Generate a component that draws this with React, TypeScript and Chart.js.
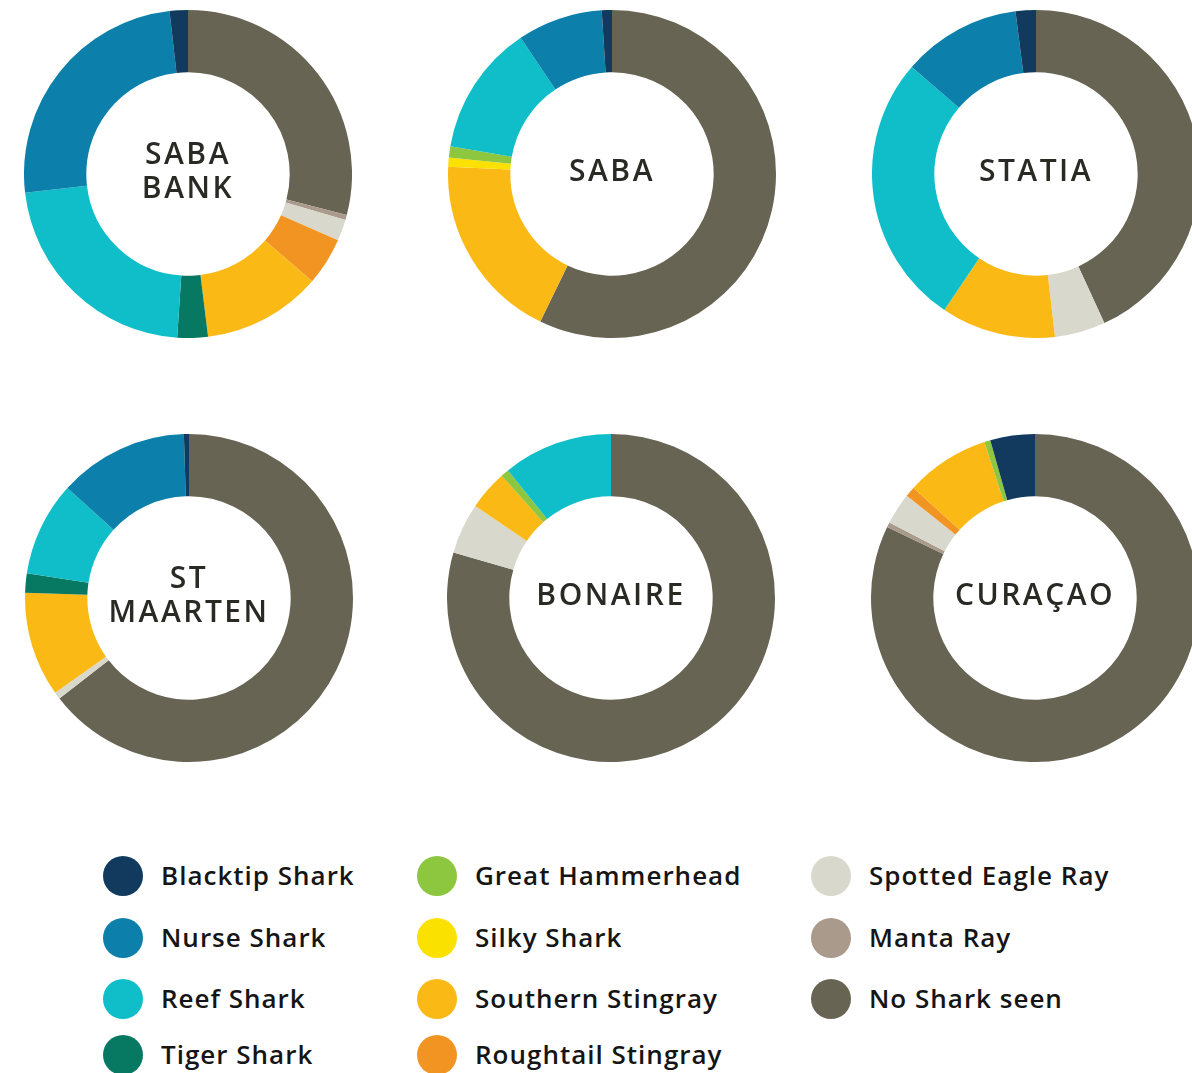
import React, { useEffect, useRef } from "react";
import { Chart, registerables } from "chart.js";

Chart.register(...registerables);

const species = [
  "Blacktip Shark",
  "Nurse Shark",
  "Reef Shark",
  "Tiger Shark",
  "Great Hammerhead",
  "Silky Shark",
  "Southern Stingray",
  "Roughtail Stingray",
  "Spotted Eagle Ray",
  "Manta Ray",
  "No Shark seen",
];

const speciesColors = [
  "#113a5e",
  "#0c80aa",
  "#0fbec9",
  "#077862",
  "#8dc63f",
  "#fae100",
  "#fbb916",
  "#f19422",
  "#d9d8cc",
  "#a99a8b",
  "#676453",
];

// percentages, in legend order
const sabaBank = [1.8, 25, 22.1, 3, 0, 0, 11.7, 4.7, 2.1, 0.5, 29.0];
const saba = [1, 8.4, 12.9, 0, 1.1, 0.9, 18.5, 0, 0, 0, 57.2];
const statia = [2, 11.7, 26.9, 0, 0, 0, 11.3, 0, 5, 0, 43.2];
const stMaarten = [0.5, 12.8, 9.3, 1.9, 0, 0, 10.3, 0, 0.7, 0, 64.5];
const bonaire = [0, 0, 10.8, 0, 0.8, 0, 3.9, 0, 5, 0, 79.4];
const curacao = [4.4, 0, 0, 0, 0.6, 0, 8.3, 1, 3.1, 0.5, 82.2];

const sites = [
  { title: ["SABA", "BANK"], values: sabaBank, cx: 188, cy: 174 },
  { title: ["SABA"], values: saba, cx: 612, cy: 174 },
  { title: ["STATIA"], values: statia, cx: 1036, cy: 174 },
  { title: ["ST", "MAARTEN"], values: stMaarten, cx: 189, cy: 598 },
  { title: ["BONAIRE"], values: bonaire, cx: 611, cy: 598 },
  { title: ["CURAÇAO"], values: curacao, cx: 1035, cy: 598 },
];

const SIZE = 328;

function Donut({ values, title, cx, cy }: { values: number[]; title: string[]; cx: number; cy: number }) {
  const ref = useRef<HTMLCanvasElement>(null);
  useEffect(() => {
    if (!ref.current) return;
    const chart = new Chart(ref.current, {
      type: "doughnut",
      data: {
        labels: [...species].reverse(),
        datasets: [
          {
            data: [...values].reverse(),
            backgroundColor: [...speciesColors].reverse(),
            borderWidth: 0,
          },
        ],
      },
      options: {
        responsive: false,
        animation: false,
        cutout: "62%",
        layout: { padding: 0 },
        plugins: { legend: { display: false }, tooltip: { enabled: false } },
      },
    });
    return () => chart.destroy();
  }, []);
  return (
    <div style={{ position: "absolute", left: cx - SIZE / 2, top: cy - SIZE / 2, width: SIZE, height: SIZE }}>
      <canvas ref={ref} width={SIZE} height={SIZE} style={{ width: SIZE, height: SIZE, display: "block" }} />
      <div
        style={{
          position: "absolute",
          left: 0,
          top: -4,
          width: SIZE,
          height: SIZE,
          display: "flex",
          flexDirection: "column",
          alignItems: "center",
          justifyContent: "center",
          fontFamily: "'Open Sans', sans-serif",
          fontWeight: 600,
          fontSize: 30,
          lineHeight: "34px",
          letterSpacing: "2.5px",
          color: "#2a2a25",
          textAlign: "center",
        }}
      >
        {title.map((t, i) => (
          <div key={i}>{t}</div>
        ))}
      </div>
    </div>
  );
}

const legendCols = [103, 417, 811];
const legendRows = [876, 938, 999, 1055];
const legendLayout = [
  [0, 0], [0, 1], [0, 2], [0, 3],
  [1, 0], [1, 1], [1, 2], [1, 3],
  [2, 0], [2, 1], [2, 2],
];

export default function App() {
  return (
    <div
      style={{
        position: "fixed",
        left: 0,
        top: 0,
        width: 1192,
        height: 1073,
        overflow: "hidden",
        background: "#ffffff",
      }}
    >
      {sites.map((s, i) => (
        <Donut key={i} values={s.values} title={s.title} cx={s.cx} cy={s.cy} />
      ))}
      {species.map((name, i) => {
        const [c, r] = legendLayout[i];
        return (
          <div
            key={name}
            style={{
              position: "absolute",
              left: legendCols[c],
              top: legendRows[r] - 20,
              height: 40,
              display: "flex",
              alignItems: "center",
              whiteSpace: "nowrap",
            }}
          >
            <div style={{ width: 40, height: 40, borderRadius: 20, background: speciesColors[i] }} />
            <div
              style={{
                marginLeft: 18,
                marginTop: -2,
                fontFamily: "'Open Sans', sans-serif",
                fontWeight: 600,
                fontSize: 26,
                letterSpacing: "1px",
                color: "#151515",
              }}
            >
              {name}
            </div>
          </div>
        );
      })}
    </div>
  );
}
